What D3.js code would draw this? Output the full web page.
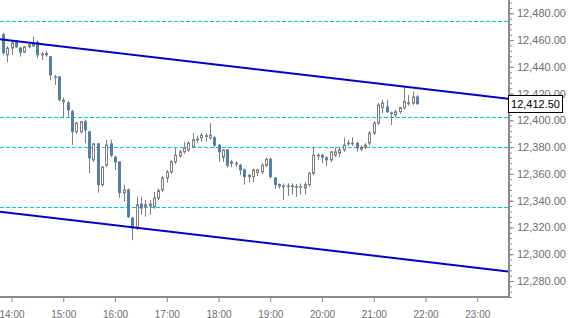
<!DOCTYPE html>
<html>
<head>
<meta charset="utf-8">
<script src="https://cdn.jsdelivr.net/npm/d3@7"></script>
<style>
  html, body { margin: 0; padding: 0; background: #fff; }
  svg { display: block; }
</style>
</head>
<body>
<script>
// 5 minute bars, first bar 13:50
var firstBar = "13:50";
var open  = [12464,12449,12454,12458.5,12454,12451,12455,12455.5,12458.5,12449.5,12449,12447.5,12432,12432.5,12414,12413,12406.5,12391.5,12391.5,12399,
             12391.5,12370.5,12382.5,12352,12366.5,12382.5,12372.5,12369,12346,12348,12327,12319.5,12337.5,12335.5,12336,12335.5,12342,12348,12357,12361.5,
             12369,12373.5,12376.5,12378,12380,12386,12387,12388.5,12387,12387,12381.5,12372.5,12378,12369,12368,12366.5,12363,12358,12358,12361,
             12361.5,12366.5,12371,12357,12352,12351,12350.5,12351,12350.5,12350,12349.5,12352,12360.5,12374,12374,12372,12370.5,12374,12375.5,12378,
             12383,12382.5,12383,12378.5,12380,12383,12390.5,12398,12409.5,12410,12405.5,12404,12406.5,12409.5,12413,12413,12417.5];
var high  = [12465.5,12455.5,12459.5,12460,12455,12455.5,12457,12462.5,12459.5,12451,12452,12448,12434,12433,12417,12414.5,12408,12399,12399.5,12400.5,
             12392,12383,12383,12366,12385.5,12385.5,12373.5,12369.5,12352,12349,12328,12343,12343,12340.5,12340.5,12346.5,12349,12358.5,12363,12370.5,
             12379.5,12378,12384,12384.5,12390.5,12388.5,12390.5,12390.5,12398,12388.5,12382.5,12378.5,12378.5,12370.5,12369.5,12367.5,12364,12360,12364,12364,
             12368,12372,12372,12357.5,12353,12353,12353,12353,12352.5,12353,12354,12361.5,12380,12375.5,12375,12373.5,12377,12380,12380,12387,
             12385.5,12387.5,12384,12381.5,12383,12392,12399.5,12413,12415.5,12415.5,12406.5,12408,12410,12425,12419,12421.5,12419];
var low   = [12449,12443.5,12449,12454,12447.5,12450.5,12454,12455,12446.5,12445,12447.5,12430,12426.5,12414,12402,12402,12381.5,12390,12390,12383,
             12360.5,12369,12346,12350.5,12365,12372.5,12363,12342,12339,12327,12310.5,12318,12329.5,12328,12329.5,12334,12340.5,12346.5,12353.5,12360,
             12367.5,12372,12375,12376.5,12379.5,12383,12384,12384,12385.5,12380,12369,12369,12365,12365,12365,12359,12352,12353.5,12354,12358.5,
             12360,12365,12356.5,12349,12349,12340.5,12343.5,12344.5,12343,12344.5,12344.5,12350.5,12359,12370.5,12368,12365.5,12369,12372.5,12372.5,12376.5,
             12381,12381,12376.5,12377,12378.5,12381.5,12389,12396.5,12405.5,12405.5,12396.5,12402.5,12405,12408,12411,12411.5,12411.5];
var close = [12450.5,12454,12458,12455,12451,12455,12456.5,12457,12449,12449,12450,12434,12432.5,12415.5,12415,12408,12391.5,12398,12399,12393,
             12372,12382.5,12352,12365,12381.5,12374,12369,12346,12348,12328,12319.5,12337,12334.5,12337,12337.5,12342,12347.5,12357,12361.5,12369,
             12374,12376.5,12379.5,12383,12385.5,12385.5,12389,12388,12389,12381.5,12376.5,12378,12366.5,12368,12367.5,12363,12358,12359,12363,12363,
             12366.5,12371,12358,12352,12351,12350.5,12351,12350.5,12350,12350.5,12352,12360.5,12374,12373.5,12372.5,12370.5,12376.5,12376.5,12378,12381.5,
             12382.5,12383,12379.5,12380,12381.5,12390.5,12398,12411.5,12413,12406.5,12405,12406.5,12409.5,12414,12412.5,12417.5,12412.5];

var hLevels = [12474.2, 12402.5, 12380.1, 12335];
var upperChannel = [{t: "13:40", v: 12461.1}, {t: "23:40", v: 12415.9}];
var lowerChannel = [{t: "13:40", v: 12332.3}, {t: "23:40", v: 12286.8}];
var yTicks = [12280, 12300, 12320, 12340, 12360, 12380, 12400, 12420, 12440, 12460, 12480];
var lastPrice = 12412.5;

var width = 568, height = 318;
var plotW = 508, plotH = 296;

var parse = d3.timeParse("%H:%M");

var svg = d3.select("body")
    .append("svg")
    .attr("width", width)
    .attr("height", height)
    .style("font-family", "'Liberation Sans', Arial, sans-serif");

var x = d3.scaleTime()
    .domain([parse("14:00"), parse("23:00")])
    .range([11.5, 477.3]);

var y = d3.scaleLinear()
    .domain([12280, 12480])
    .range([281, 13.3]);

var t0 = parse(firstBar);
var bars = open.map(function(o, i) {
    return { t: d3.timeMinute.offset(t0, 5 * i), o: o, h: high[i], l: low[i], c: close[i] };
});

svg.append("clipPath").attr("id", "plot")
    .append("rect").attr("x", 0).attr("y", 0).attr("width", plotW).attr("height", plotH);

var plot = svg.append("g").attr("clip-path", "url(#plot)");

// dashed levels
plot.selectAll("line.level")
    .data(hLevels)
    .enter()
    .append("line")
    .attr("class", "level")
    .attr("x1", 0)
    .attr("x2", plotW)
    .attr("y1", function(d) { return Math.round(y(d)) + 0.5; })
    .attr("y2", function(d) { return Math.round(y(d)) + 0.5; })
    .style("stroke", "#00c8d6")
    .style("stroke-width", 1)
    .style("stroke-dasharray", "4,2");

// candles
var cx = function(d) { return Math.round(x(d.t)) + 0.5; };

plot.selectAll("line.wick")
    .data(bars)
    .enter()
    .append("line")
    .attr("class", "wick")
    .attr("x1", cx)
    .attr("x2", cx)
    .attr("y1", function(d) { return y(d.h); })
    .attr("y2", function(d) { return y(d.l); })
    .attr("stroke", "#7f7f7f")
    .attr("stroke-width", 1);

plot.selectAll("rect.body")
    .data(bars)
    .enter()
    .append("rect")
    .attr("class", "body")
    .attr("x", function(d) { return cx(d) - 1; })
    .attr("width", 2)
    .attr("y", function(d) { return y(Math.max(d.o, d.c)); })
    .attr("height", function(d) { return Math.max(0.5, Math.abs(y(d.o) - y(d.c))); })
    .attr("fill", function(d) { return d.c < d.o ? "#4a80ba" : "#ffffff"; })
    .attr("stroke", function(d) { return d.c < d.o ? "#5a7fa6" : "#7f7f7f"; })
    .attr("stroke-width", 1);

// channel
var line = d3.line()
    .x(function(d) { return x(parse(d.t)); })
    .y(function(d) { return y(d.v); });

plot.selectAll("path.channel")
    .data([upperChannel, lowerChannel])
    .enter()
    .append("path")
    .attr("class", "channel")
    .attr("d", line)
    .attr("fill", "none")
    .attr("stroke", "#0000c4")
    .attr("stroke-width", 2);

// axes
var axisColor = "#8a8a8a";
var textColor = "#6e6e6e";

var yMinor = svg.append("g")
    .attr("transform", "translate(" + (plotW + 1) + ",0)")
    .call(d3.axisRight(y).tickValues(d3.range(12268, 12490, 4)).tickSize(3).tickFormat(""));
yMinor.select(".domain").remove();
yMinor.selectAll("line").attr("stroke", axisColor);

var yAxis = svg.append("g")
    .attr("transform", "translate(" + (plotW + 1) + ",0)")
    .call(d3.axisRight(y).tickValues(yTicks).tickSize(5).tickPadding(3).tickFormat(d3.format(",.2f")));
yAxis.select(".domain").remove();
yAxis.selectAll("line").attr("stroke", axisColor);
yAxis.selectAll("text")
    .attr("fill", textColor)
    .style("font-size", "11px")
    .style("font-family", "'Liberation Sans', Arial, sans-serif");

var xAxis = svg.append("g")
    .attr("transform", "translate(0," + (plotH + 1) + ")")
    .call(d3.axisBottom(x).ticks(d3.timeHour.every(1)).tickSize(5).tickPadding(6).tickFormat(d3.timeFormat("%H:%M")));
xAxis.select(".domain").remove();
xAxis.selectAll("line").attr("stroke", axisColor);
xAxis.selectAll("text")
    .attr("fill", textColor)
    .attr("dy", "1em")
    .style("font-size", "10px")
    .style("font-family", "'Liberation Sans', Arial, sans-serif");

svg.append("line")
    .attr("x1", plotW + 1).attr("x2", plotW + 1)
    .attr("y1", 0).attr("y2", plotH + 2)
    .attr("stroke", axisColor).attr("stroke-width", 2);
svg.append("line")
    .attr("x1", 0).attr("x2", plotW + 2)
    .attr("y1", plotH + 1).attr("y2", plotH + 1)
    .attr("stroke", axisColor).attr("stroke-width", 2);

// last price box
var py = Math.round(y(lastPrice));
svg.append("rect")
    .attr("x", plotW + 0.5)
    .attr("y", py - 8.5)
    .attr("width", 54)
    .attr("height", 17)
    .attr("fill", "#fff")
    .attr("stroke", "#000")
    .attr("stroke-width", 1);
svg.append("text")
    .attr("x", plotW + 27.5)
    .attr("y", py + 4)
    .attr("text-anchor", "middle")
    .attr("fill", "#000")
    .style("font-size", "11px")
    .text(d3.format(",.2f")(lastPrice));
</script>
</body>
</html>
